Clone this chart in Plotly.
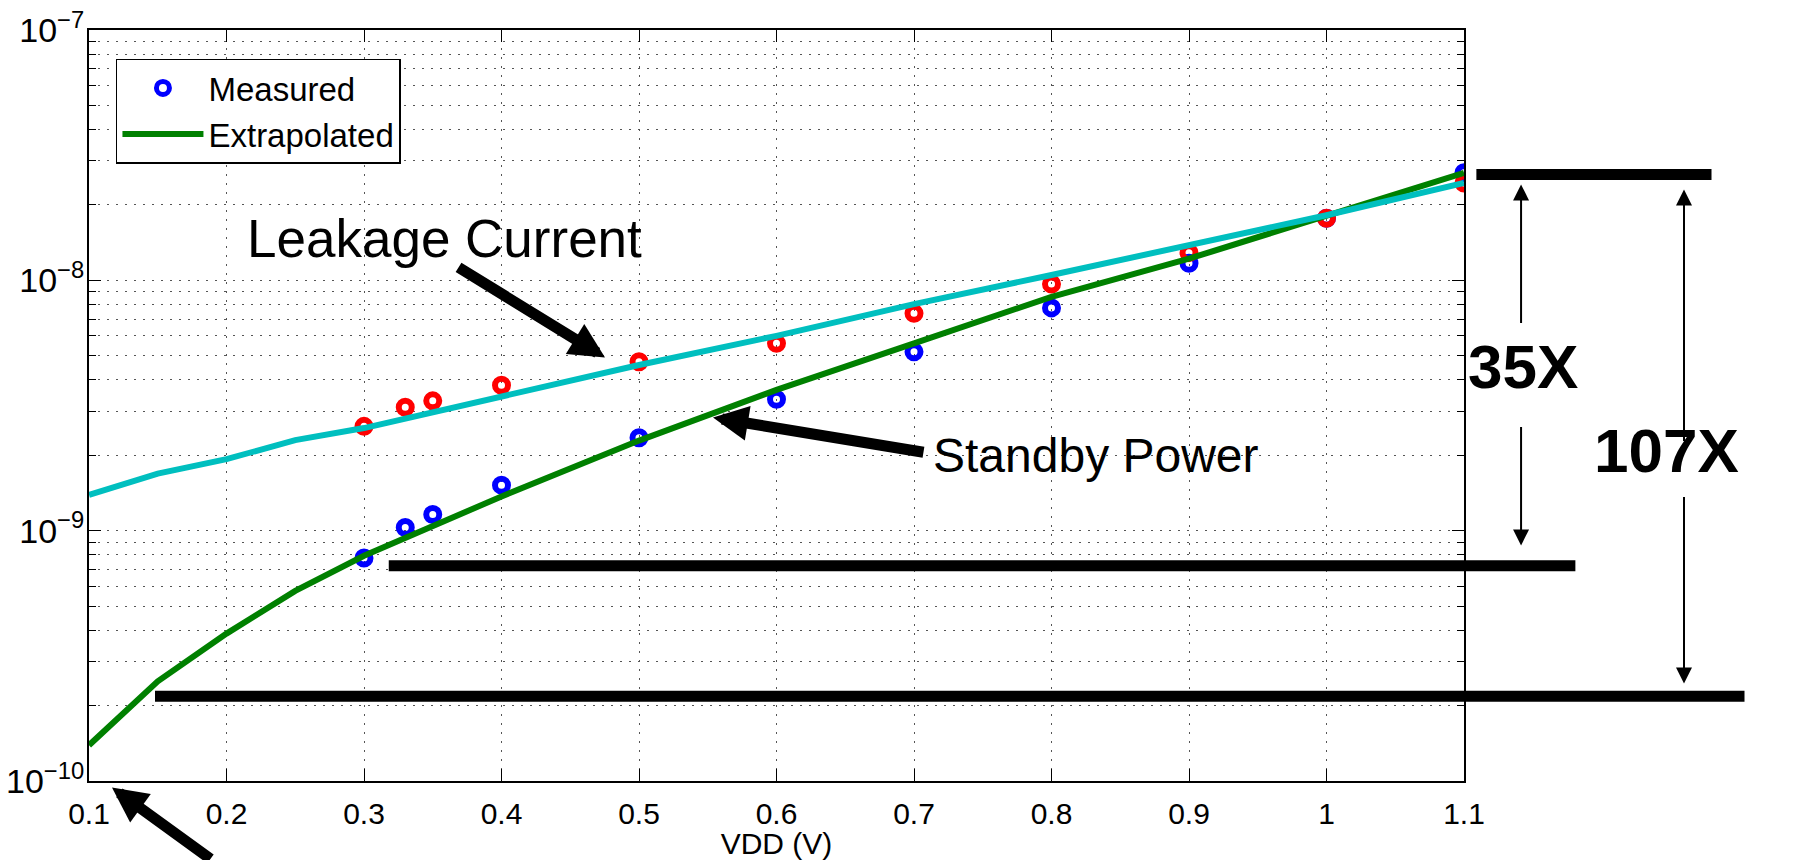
import numpy as np
import plotly.graph_objects as go

# ---- data -------------------------------------------------------------
vdd_meas = [0.3, 0.33, 0.35, 0.4, 0.5, 0.6, 0.7, 0.8, 0.9, 1.0, 1.1]
standby_meas = [7.78e-10, 1.03e-9, 1.16e-9, 1.52e-9, 2.35e-9, 3.35e-9,
                5.18e-9, 7.76e-9, 1.17e-8, 1.77e-8, 2.69e-8]
leakage_meas = [2.61e-9, 3.11e-9, 3.30e-9, 3.81e-9, 4.73e-9, 5.60e-9,
                7.38e-9, 9.66e-9, 1.29e-8, 1.77e-8, 2.45e-8]

vdd_fit = [0.1, 0.15, 0.2, 0.25, 0.3, 0.4, 0.5, 0.6, 0.7, 0.8, 0.9, 1.0, 1.1]
standby_fit = [1.39e-10, 2.50e-10, 3.88e-10, 5.75e-10, 7.94e-10, 1.37e-9,
               2.29e-9, 3.65e-9, 5.60e-9, 8.59e-9, 1.22e-8, 1.82e-8, 2.69e-8]
leakage_fit = [1.39e-9, 1.69e-9, 1.93e-9, 2.30e-9, 2.57e-9, 3.43e-9,
               4.59e-9, 6.0e-9, 8.04e-9, 1.05e-8, 1.39e-8, 1.82e-8, 2.45e-8]

x_ticks = [0.1, 0.2, 0.3, 0.4, 0.5, 0.6, 0.7, 0.8, 0.9, 1.0, 1.1]
x_tick_labels = ["0.1", "0.2", "0.3", "0.4", "0.5", "0.6", "0.7", "0.8",
                 "0.9", "1", "1.1"]
y_ticks = [1e-10, 1e-9, 1e-8, 1e-7]
y_tick_labels = ["10<sup>\u221210</sup>", "10<sup>\u22129</sup>",
                 "10<sup>\u22128</sup>", "10<sup>\u22127</sup>"]

# reference levels for the ratio bars
bar_levels = [2.65e-8, 7.24e-10, 2.18e-10]
bar_v_start = [1.109, 0.318, 0.148]
bar_v_end = [1.280, 1.181, 1.304]

X_MIN, X_MAX = 0.1, 1.1
LOG_MIN, LOG_MAX = -10, -7

FONT = "Liberation Sans, Arial, Helvetica, sans-serif"
BLUE, RED, GREEN, CYAN = "#0000FF", "#FF0000", "#008000", "#00BFBF"


def xp(v):
    return (v - X_MIN) / (X_MAX - X_MIN)


def yp(val):
    return (np.log10(val) - LOG_MIN) / (LOG_MAX - LOG_MIN)


fig = go.Figure()

marker_style = dict(symbol="circle-open", size=13)
fig.add_trace(go.Scatter(
    x=vdd_meas, y=standby_meas, mode="markers", name="Measured",
    marker=dict(color=BLUE, line=dict(color=BLUE, width=6), **marker_style)))
fig.add_trace(go.Scatter(
    x=vdd_meas, y=leakage_meas, mode="markers", showlegend=False,
    marker=dict(color=RED, line=dict(color=RED, width=6), **marker_style)))
fig.add_trace(go.Scatter(
    x=vdd_fit, y=standby_fit, mode="lines", name="Extrapolated",
    line=dict(color=GREEN, width=6)))
fig.add_trace(go.Scatter(
    x=vdd_fit, y=leakage_fit, mode="lines", showlegend=False,
    line=dict(color=CYAN, width=6)))

# thick horizontal bars marking the compared levels
shapes = []
for lvl, v0, v1 in zip(bar_levels, bar_v_start, bar_v_end):
    shapes.append(dict(type="line", xref="paper", yref="paper",
                       x0=xp(v0), x1=xp(v1), y0=yp(lvl), y1=yp(lvl),
                       line=dict(color="black", width=11)))

annotations = []


def label(text, x, y, size, bold=False):
    annotations.append(dict(
        xref="paper", yref="paper", x=x, y=y,
        text=f"<b>{text}</b>" if bold else text,
        showarrow=False, xanchor="center", yanchor="middle",
        font=dict(family=FONT, size=size, color="black")))


def arrow(x, y, ax, ay, width, size):
    annotations.append(dict(
        xref="paper", yref="paper", x=x, y=y, ax=ax, ay=ay,
        axref="pixel", ayref="pixel", text="", showarrow=True,
        arrowhead=2, arrowsize=size, arrowwidth=width, arrowcolor="black"))


label("Leakage Current", 0.2585, 0.7224, 53)
label("Standby Power", 0.7325, 0.4334, 48)
label("35X", 1.0429, 0.552, 62, bold=True)
label("107X", 1.1476, 0.440, 62, bold=True)

# pointer arrows
arrow(0.3753, 0.5639, -148, -91, 11, 0.64)
arrow(0.4538, 0.4840, 212, 35, 11, 0.64)
arrow(0.0167, -0.0087, 100, 100, 11, 0.64)

# ratio span arrows
arrow(1.0415, 0.7943, 0, 140, 2, 1.6)
arrow(1.0415, 0.3136, 0, -120, 2, 1.6)
arrow(1.1600, 0.7876, 0, 253, 2, 1.6)
arrow(1.1600, 0.1298, 0, -188, 2, 1.6)

grid_style = dict(showgrid=True, gridcolor="#555555", gridwidth=1,
                  griddash="2px,7px")

fig.update_layout(
    width=1794, height=860,
    margin=dict(l=89, r=330, t=30, b=79, autoexpand=False),
    paper_bgcolor="white", plot_bgcolor="white",
    font=dict(family=FONT, color="black"),
    shapes=shapes, annotations=annotations,
    legend=dict(x=0.0196, y=0.962, xanchor="left", yanchor="top",
                bgcolor="white", bordercolor="black", borderwidth=1.5,
                font=dict(family=FONT, size=33), itemwidth=81,
                tracegroupgap=0),
    xaxis=dict(
        range=[X_MIN, X_MAX], tickmode="array", tickvals=x_ticks,
        ticktext=x_tick_labels, ticks="inside", ticklen=12, tickwidth=1,
        tickcolor="black", showline=True, linecolor="black", linewidth=2,
        mirror="allticks", zeroline=False, tickfont=dict(size=30),
        ticklabelstandoff=5, automargin=False,
        title=dict(text="VDD (V)", font=dict(size=30), standoff=3),
        **grid_style),
    yaxis=dict(
        type="log", range=[LOG_MIN, LOG_MAX], tickmode="array",
        tickvals=y_ticks, ticktext=y_tick_labels, ticks="inside",
        ticklen=12, tickwidth=1, tickcolor="black", showline=True,
        linecolor="black", linewidth=2, mirror="allticks", zeroline=False,
        tickfont=dict(size=34), ticklabelstandoff=-4, automargin=False,
        minor=dict(dtick="D1", ticks="inside", ticklen=7, tickcolor="black",
                   **grid_style),
        **grid_style),
)

fig.write_html("out.html")
